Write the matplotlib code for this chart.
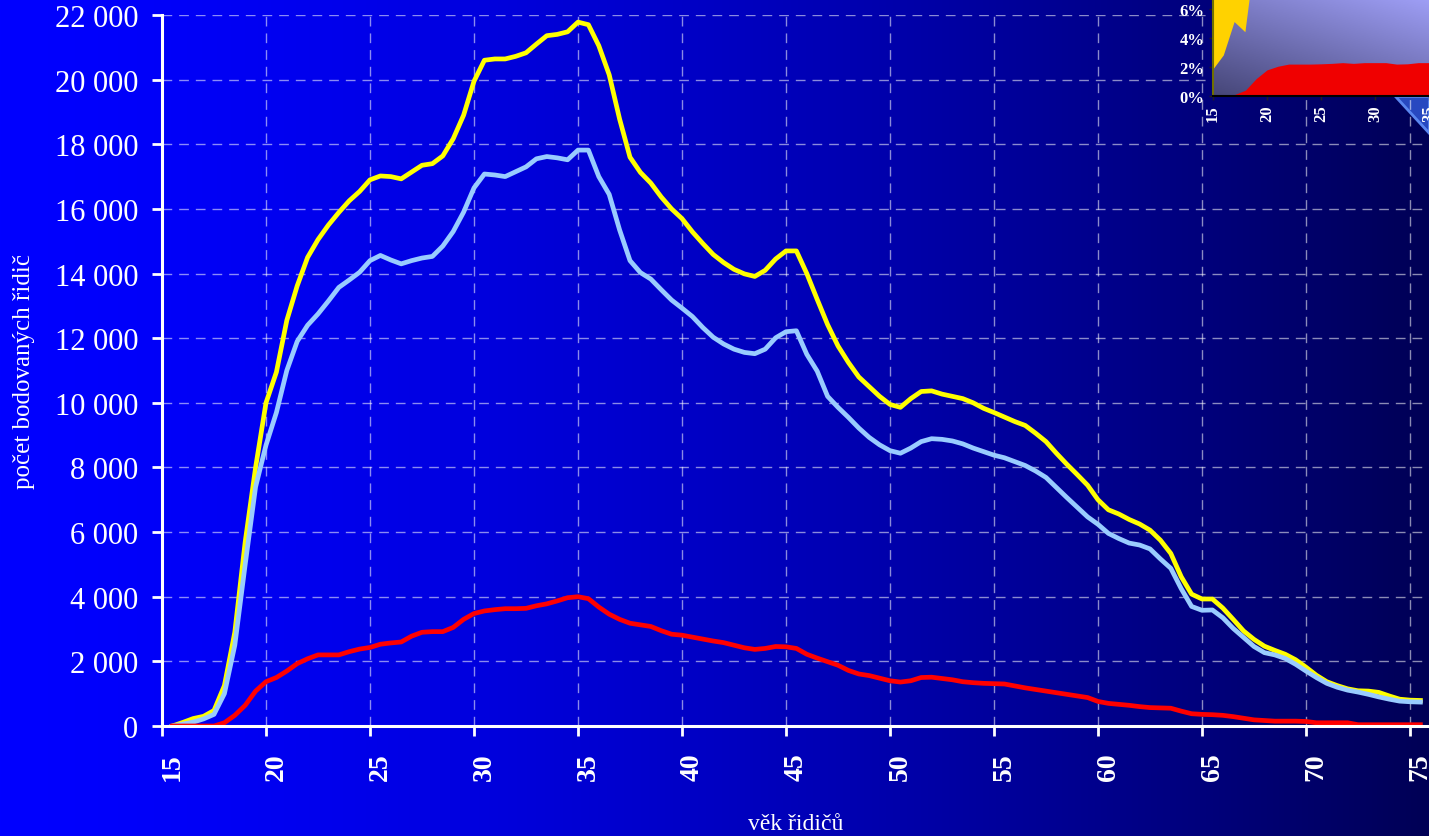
import numpy as np
import matplotlib
matplotlib.use("Agg")
import matplotlib.pyplot as plt
from matplotlib.ticker import FuncFormatter, MultipleLocator
from matplotlib.transforms import ScaledTranslation
from matplotlib.patches import Polygon

plt.rcParams['font.family'] = ['Liberation Serif', 'DejaVu Serif']

# věk řidičů (půlroční krok)
ages = np.arange(15.5, 75.51, 0.5)

# celkem (žlutá)
total = [0, 110, 230, 300, 480, 1250, 2900, 5700, 8000, 10000,
         10950, 12550, 13620, 14500, 15050, 15500, 15890, 16250, 16540, 16900,
         17020, 17000, 16930, 17140, 17350, 17400, 17640, 18170, 18900, 19950,
         20600, 20640, 20640, 20720, 20830, 21100, 21360, 21400, 21480, 21780,
         21700, 21050, 20150, 18780, 17600, 17130, 16800, 16370, 16000, 15700,
         15290, 14930, 14590, 14340, 14130, 13990, 13910, 14100, 14450, 14700,
         14700, 14000, 13200, 12420, 11760, 11250, 10800, 10500, 10200, 9950,
         9860, 10130, 10350, 10370, 10270, 10200, 10130, 10000, 9830, 9700,
         9560, 9420, 9300, 9060, 8800, 8440, 8100, 7780, 7450, 7000,
         6690, 6560, 6390, 6250, 6060, 5750, 5340, 4620, 4080, 3930,
         3930, 3650, 3300, 2940, 2680, 2470, 2340, 2220, 2050, 1820,
         1570, 1370, 1250, 1150, 1090, 1080, 1040, 930, 830, 800, 790]

# muži (světle modrá)
men = [0, 60, 120, 220, 360, 1000, 2500, 5000, 7400, 8690,
       9700, 11000, 11900, 12400, 12750, 13150, 13570, 13800, 14040, 14400,
       14560, 14420, 14300, 14400, 14480, 14530, 14850, 15300, 15900, 16650,
       17080, 17050, 17000, 17150, 17300, 17550, 17620, 17580, 17520, 17820,
       17820, 17000, 16450, 15350, 14400, 14030, 13830, 13500, 13180, 12930,
       12670, 12330, 12030, 11820, 11660, 11560, 11520, 11660, 12010, 12200,
       12230, 11500, 10980, 10200, 9860, 9550, 9220, 8930, 8700, 8520,
       8440, 8600, 8800, 8890, 8870, 8820, 8730, 8600, 8490, 8380,
       8300, 8180, 8060, 7890, 7690, 7380, 7070, 6770, 6470, 6240,
       5960, 5800, 5660, 5600, 5480, 5170, 4880, 4250, 3700, 3580,
       3590, 3350, 3020, 2740, 2460, 2270, 2200, 2090, 1910, 1700,
       1500, 1320, 1200, 1110, 1050, 980, 900, 830, 770, 750, 740]

# ženy (červená)
women = [0, 0, 0, 0, 0, 100, 330, 640, 1080, 1370,
         1500, 1700, 1930, 2080, 2200, 2200, 2200, 2300, 2380, 2430,
         2530, 2570, 2600, 2780, 2900, 2920, 2920, 3050, 3300, 3480,
         3560, 3600, 3630, 3630, 3640, 3720, 3780, 3870, 3970, 4000,
         3940, 3680, 3460, 3300, 3180, 3130, 3080, 2950, 2840, 2810,
         2750, 2690, 2630, 2580, 2500, 2420, 2370, 2400, 2460, 2450,
         2400, 2220, 2100, 1990, 1880, 1720, 1610, 1560, 1480, 1400,
         1360, 1400, 1500, 1510, 1470, 1430, 1370, 1340, 1320, 1310,
         1300, 1240, 1180, 1130, 1080, 1030, 980, 930, 880, 760,
         700, 670, 640, 600, 570, 560, 550, 460, 380, 360,
         350, 330, 290, 240, 190, 170, 150, 150, 150, 140,
         100, 100, 100, 100, 40, 40, 40, 40, 40, 40, 40]

# vložený graf (podíly v %)
ins_ages = [15, 16, 17, 18, 19, 20, 21, 22, 23, 24, 25, 26, 27, 28, 29, 30, 31, 32, 33, 34, 35]
ins_red = [0, 0, 0.1, 0.4, 1.2, 1.8, 2.05, 2.2, 2.2, 2.2, 2.22, 2.25, 2.3, 2.25, 2.3,
           2.3, 2.3, 2.2, 2.22, 2.3, 2.3]
ins_yel_ages = [15, 16, 17, 18, 19]
ins_yel = [1.8, 2.8, 5.1, 4.4, 10.2]

W, H = 1429, 837
fig = plt.figure(figsize=(W / 100, H / 100), dpi=100)

# pozadí s přechodem
bg = fig.add_axes([0, 0, 1, 1], zorder=-10)
bg.axis('off')
t = np.linspace(0, 1, 800)
grad = np.zeros((2, 800, 3))
grad[..., 2] = (255 - 170 * t ** 1.5) / 255
bg.imshow(grad, aspect='auto', extent=[0, 1, 0, 1])
bg.set_xlim(0, 1)
bg.set_ylim(0, 1)
bg.add_patch(Polygon([(1395 / W, 1 - 97 / H), (1429 / W, 1 - 97 / H), (1429 / W, 1 - 134 / H)],
                     closed=True, facecolor='#2748c0', edgecolor='#5a86f0', lw=2))

ax = fig.add_axes([162 / W, 1 - 727 / H, (W - 162) / W, 711 / H])
ax.set_facecolor('none')
ax.plot(ages, total, color='#ffff00', lw=3.4, solid_joinstyle='round')
ax.plot(ages, men, color='#99ccff', lw=3.4, solid_joinstyle='round')
ax.plot(ages, women, color='#ff0000', lw=3.4, solid_joinstyle='round')

ax.set_xlim(15, 15 + (W - 162) / 20.8)
ax.set_ylim(0, 22000)
ax.set_xticks(range(15, 76, 5))
ax.yaxis.set_major_locator(MultipleLocator(2000))
ax.yaxis.set_major_formatter(FuncFormatter(lambda v, p: f"{int(v):,}".replace(",", " ")))

for s in ['top', 'right']:
    ax.spines[s].set_visible(False)
for s in ['left', 'bottom']:
    ax.spines[s].set_color('white')
    ax.spines[s].set_linewidth(2.2)

ax.tick_params(axis='both', colors='white', direction='out', length=7, width=2)
ax.tick_params(axis='y', labelsize=22, pad=10)
ax.tick_params(axis='x', labelsize=20, pad=12, labelrotation=90)
for lab in ax.get_xticklabels():
    lab.set_fontweight('bold')
    lab.set_transform(lab.get_transform() + ScaledTranslation(0.10, 0, fig.dpi_scale_trans))

ax.grid(True, color='white', alpha=0.55, lw=1, linestyle=(0, (7, 5)))
ax.set_axisbelow(True)

ax.set_ylabel('počet bodovaných řidič', color='white', fontsize=18, labelpad=14)
ax.set_xlabel('věk řidičů', color='white', fontsize=17)
ax.xaxis.set_label_coords(0.5, -0.122)

# vložený graf vpravo nahoře
ins = fig.add_axes([1213 / W, 1 - 97 / H, 216 / W, 97 / H], zorder=5)
ins.set_xlim(15, 35)
ins.set_ylim(0, 97 / 14.5)
gx, gy = np.meshgrid(np.linspace(0, 1, 100), np.linspace(0, 1, 60))
s = 0.6 * gy + 0.4 * gx
igrad = np.dstack([(70 + 88 * s) / 255, (70 + 88 * s) / 255, (120 + 125 * s) / 255])
ins.imshow(igrad, aspect='auto', origin='lower', extent=[15, 35, 0, 97 / 14.5], zorder=0)
ins.fill_between(ins_yel_ages, ins_yel, 100, color='#ffd200', lw=0, zorder=1)
ins.fill_between(ins_ages, 0, ins_red, color='#f00000', lw=0, zorder=2)
ins.set_xticks(range(15, 36, 5))
ins.set_yticks([0, 2, 4, 6])
ins.yaxis.set_major_formatter(FuncFormatter(lambda v, p: f"{int(v)}%"))
ins.tick_params(axis='both', colors='#202020', labelcolor='white', length=3, width=1,
                labelsize=12, pad=3)
ins.tick_params(axis='x', labelrotation=90)
for lab in ins.get_xticklabels() + ins.get_yticklabels():
    lab.set_fontweight('bold')
for sname in ['top', 'right']:
    ins.spines[sname].set_visible(False)
ins.spines['left'].set_color('#707000')
ins.spines['left'].set_linewidth(1.5)
ins.spines['bottom'].set_color('black')
ins.spines['bottom'].set_linewidth(1.5)

fig.savefig('out.png', dpi=100)
